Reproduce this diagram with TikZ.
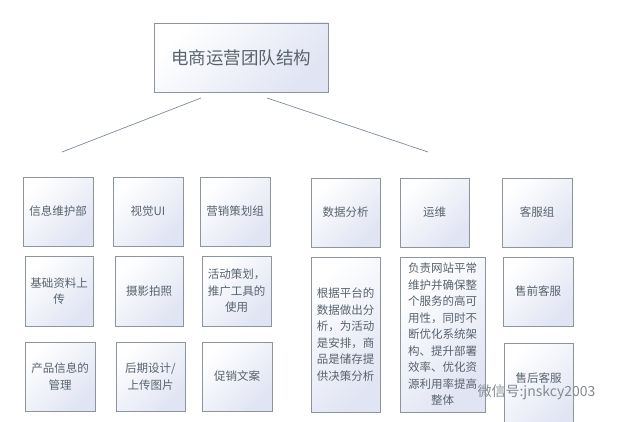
\documentclass[tikz,border=0pt]{standalone}
\usepackage{fontspec}
\setmainfont{Noto Sans CJK SC}
\begin{document}
\begin{tikzpicture}[x=1pt,y=-1pt,
  % with the flipped y axis the shading is mirrored: bottom colour ends up top-left
  box/.style={draw=boxline,line width=0.8pt,bottom color=boxtop,top color=white,shading angle=45,
    text=txt,align=center,inner sep=0pt,font=\fontsize{11.5}{16.5}\selectfont},
  link/.style={draw=linkc,line width=0.7pt}]
\definecolor{boxline}{HTML}{8C949C}
\definecolor{boxtop}{HTML}{E0E4F3}
\definecolor{txt}{HTML}{58636D}
\definecolor{linkc}{HTML}{7D8C99}
\useasboundingbox (0,0) rectangle (620,422);
\clip (0,0) rectangle (620,422);
\fill[white] (0,0) rectangle (620,422);
% helper: box by corners
\newcommand{\bx}[6]{\node[box,minimum width=#3-#1,minimum height=#4-#2] (#5) at ({(#1+#3)/2},{(#2+#4)/2}) {#6};}
\node[box,minimum width=174,minimum height=69,font=\fontsize{17.5}{20}\selectfont] (top) at (241,57.5) {电商运营团队结构};
\coordinate (l1) at (201,98); \coordinate (l2) at (62,152);
\coordinate (r1) at (267,98); \coordinate (r2) at (428,152);
\draw[link] (l1) -- (l2);
\draw[link] (r1) -- (r2);
% row 1
\bx{23}{177}{93}{246}{a1}{信息维护部}
\bx{113}{177}{183}{246}{b1}{视觉UI}
\bx{200}{177}{270}{246}{c1}{营销策划组}
\bx{311}{178}{380}{247}{d1}{数据分析}
\bx{400}{178}{469}{247}{e1}{运维}
\bx{502}{178}{572}{247}{f1}{客服组}
% row 2
\bx{25}{256}{93}{326}{a2}{基础资料上\\传}
\bx{115}{256}{183}{326}{b2}{摄影拍照}
\bx{202}{256}{271}{326}{c2}{活动策划，\\推广工具的\\使用}
\bx{311}{257}{380}{412}{d2}{根据平台的\\数据做出分\\析，为活动\\是安排，商\\品是储存提\\供决策分析}
\bx{400}{257}{485}{412}{e2}{负责网站平常\\维护并确保整\\个服务的高可\\用性，同时不\\断优化系统架\\构、提升部署\\效率、优化资\\源利用率提高\\整体}
\bx{503}{257}{573}{326}{f2}{售前客服}
% row 3
\bx{25}{342}{95}{411}{a3}{产品信息的\\管理}
\bx{116}{342}{185}{411}{b3}{后期设计/\\上传图片}
\bx{202}{342}{272}{411}{c3}{促销文案}
\node[box,minimum width=69,minimum height=90,anchor=north] (f3) at (538.5,343) {};
\node[text=txt,font=\fontsize{11.5}{16.5}\selectfont] (f3t) at (538.5,378) {售后客服};
% watermark
\node[text=txt!75,font=\fontsize{14}{16}\selectfont,anchor=west] (wm) at (474,392) {微信号:jnskcy2003};
\end{tikzpicture}
\end{document}
